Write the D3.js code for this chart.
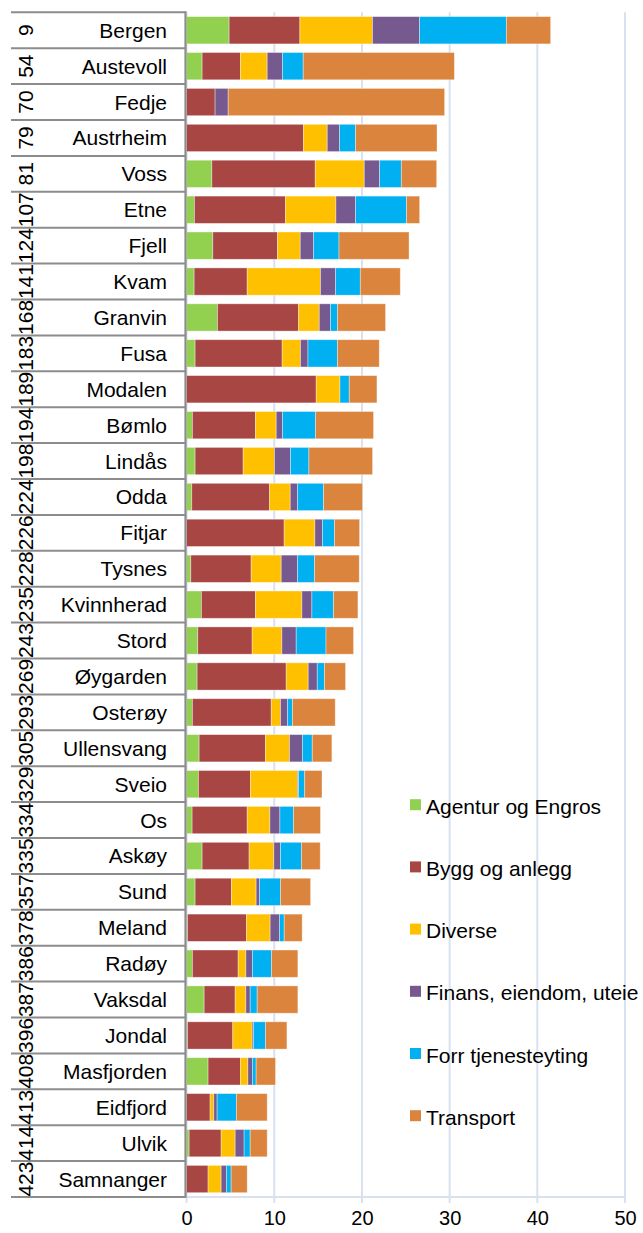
<!DOCTYPE html>
<html><head><meta charset="utf-8">
<script src="https://cdn.jsdelivr.net/npm/d3@7"></script>
<style>body{margin:0;background:#fff}svg{display:block;font-family:"Liberation Sans",Arial,sans-serif}</style>
</head><body><svg id="c" width="643" height="1233"></svg>
<script>
const categories = ["Bergen","Austevoll","Fedje","Austrheim","Voss","Etne","Fjell","Kvam","Granvin","Fusa","Modalen","Bømlo","Lindås","Odda","Fitjar","Tysnes","Kvinnherad","Stord","Øygarden","Osterøy","Ullensvang","Sveio","Os","Askøy","Sund","Meland","Radøy","Vaksdal","Jondal","Masfjorden","Eidfjord","Ulvik","Samnanger"];
const ranks = ["9","54","70","79","81","107","124","141","168","183","189","194","198","224","226","228","235","243","269","293","305","329","334","335","357","378","386","387","396","408","413","414","423"];
const seriesNames = ["Agentur og Engros","Bygg og anlegg","Diverse","Finans, eiendom, uteie","Forr tjenesteyting","Transport"];
const agentur   = [4.85,1.77,0,0,2.88,0.89,2.99,0.86,3.52,0.97,0,0.66,0.97,0.59,0,0.48,1.69,1.28,1.2,0.66,1.43,1.35,0.63,1.77,0.97,0.1,0.66,2.0,0.1,2.45,0,0.29,0];
const bygg      = [8.07,4.37,3.25,13.33,11.79,10.39,7.38,6.05,9.24,9.93,14.78,7.19,5.48,8.86,11.13,6.88,6.16,6.2,10.16,8.99,7.56,5.93,6.28,5.36,4.14,6.73,5.22,3.54,5.17,3.69,2.68,3.65,2.45];
const diverse   = [8.28,3.05,0,2.71,5.59,5.75,2.59,8.36,2.37,2.09,2.71,2.37,3.57,2.37,3.5,3.43,5.3,3.39,2.51,1.06,2.75,5.37,2.59,2.82,2.82,2.7,0.88,1.22,2.21,0.85,0.42,1.6,1.49];
const finans    = [5.37,1.75,1.49,1.4,1.75,2.24,1.53,1.72,1.29,0.85,0,0.72,1.83,0.83,0.87,1.86,1.14,1.63,1.03,0.8,1.48,0.12,1.14,0.76,0.38,1.06,0.75,0.49,0.15,0.52,0.38,1.02,0.61];
const forr      = [9.9,2.36,0,1.83,2.48,5.82,2.89,2.82,0.79,3.37,1.06,3.76,2.1,2.97,1.37,1.95,2.47,3.4,0.83,0.57,1.11,0.7,1.55,2.39,2.4,0.54,2.17,0.8,1.37,0.42,2.2,0.69,0.53];
const transport = [5.05,17.24,24.69,9.29,4.03,1.49,7.99,4.56,5.48,4.76,3.16,6.62,7.26,4.45,2.86,5.09,2.78,3.14,2.4,4.87,2.24,1.97,3.08,2.14,3.43,2.05,3.01,4.64,2.44,2.21,3.51,1.94,1.83];
const xTicks = [0,10,20,30,40,50];
const colors = ["#92D050","#A84644","#FFC000","#765A8F","#00B0F0","#DB843D"];

const svg = d3.select("#c");
const x = d3.scaleLinear().domain([0,50]).range([186.6,625]);
const y = d3.scaleBand().domain(categories).range([12.3,1197]).paddingInner(0.24).paddingOuter(0.12);
const step = y.step();

// vertical gridlines
svg.append("g").selectAll("line").data(xTicks).join("line")
  .attr("x1",d=>x(d)).attr("x2",d=>x(d)).attr("y1",12.3).attr("y2",1203)
  .attr("stroke","#D9E1F0").attr("stroke-width",2);
svg.append("line").attr("x1",x(0)).attr("x2",x(50)).attr("y1",1197).attr("y2",1197)
  .attr("stroke","#D9E1F0").attr("stroke-width",2);

// x axis labels
const xa = svg.append("g").attr("transform","translate(0,1197)")
  .call(d3.axisBottom(x).tickValues(xTicks).tickSize(0).tickPadding(14).tickFormat(d3.format("d")));
xa.select(".domain").remove();
xa.selectAll("text").attr("font-size",20).attr("fill","#000").attr("font-family","Liberation Sans, Arial, sans-serif");

// stacked bars
const rows = categories.map((c,i)=>({cat:c, s0:agentur[i], s1:bygg[i], s2:diverse[i], s3:finans[i], s4:forr[i], s5:transport[i]}));
const keys = ["s0","s1","s2","s3","s4","s5"];
const stacked = d3.stack().keys(keys)(rows);
svg.append("g").selectAll("g").data(stacked).join("g")
  .attr("fill",(d,i)=>colors[i])
  .selectAll("rect").data(d=>d).join("rect")
  .attr("x",d=>x(d[0])).attr("width",d=>Math.max(0,x(d[1])-x(d[0])))
  .attr("y",d=>y(d.data.cat)).attr("height",y.bandwidth())
  .attr("stroke","#fff").attr("stroke-opacity",0.45).attr("stroke-width",0.8);

// category table separators
const bounds = d3.range(categories.length+1).map(i=>12.3 + i*step);
svg.append("g").selectAll("line").data(bounds).join("line")
  .attr("x1",11).attr("x2",185.5).attr("y1",d=>d).attr("y2",d=>d)
  .attr("stroke","#8C8C8C").attr("stroke-width",2);
// left axis line
svg.append("line").attr("x1",185.5).attr("x2",185.5).attr("y1",11.3).attr("y2",1198)
  .attr("stroke","#8C8C8C").attr("stroke-width",2.2);

// names
svg.append("g").selectAll("text").data(categories).join("text")
  .attr("x",167).attr("y",d=>y(d)+y.bandwidth()/2+7.5)
  .attr("text-anchor","end").attr("font-size",21).attr("fill","#000").text(d=>d);
// ranks
svg.append("g").selectAll("text").data(categories).join("text")
  .attr("transform",(d,i)=>`translate(33,${y(d)+y.bandwidth()/2}) rotate(-90)`)
  .attr("text-anchor","middle").attr("font-size",21).attr("fill","#000").text((d,i)=>ranks[i]);

// legend
const lg = svg.append("g").selectAll("g").data(seriesNames).join("g")
  .attr("transform",(d,i)=>`translate(410,${804.7 + i*62.2})`);
lg.append("rect").attr("x",0).attr("y",-5.5).attr("width",11).attr("height",11).attr("fill",(d,i)=>colors[i]);
lg.append("text").attr("x",16).attr("y",9).attr("font-size",21).attr("fill","#000").text(d=>d);
</script></body></html>
